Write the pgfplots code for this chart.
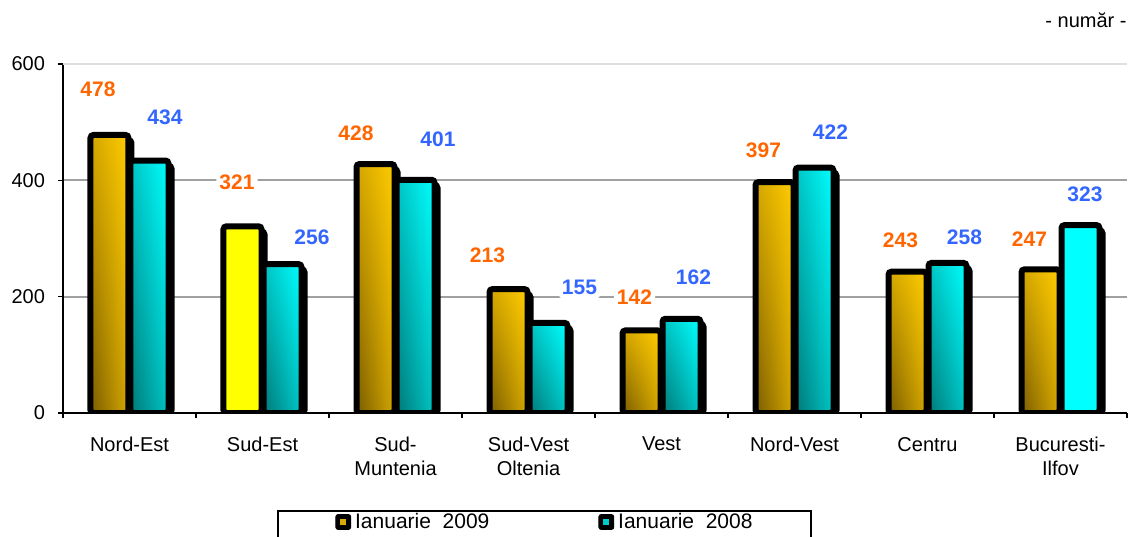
\documentclass[border=0pt]{standalone}
\usepackage{fontspec}
\setmainfont{Liberation Sans}
\usepackage{pgfplots}
\pgfplotsset{compat=1.18}
\usepackage{pgfplotstable}
\usetikzlibrary{shadings}

\definecolor{golddark}{HTML}{7A5C00}
\definecolor{goldmid}{HTML}{D4A600}
\definecolor{goldlight}{HTML}{FFCC00}
\definecolor{cyandark}{HTML}{007878}
\definecolor{cyanmid}{HTML}{00C4C4}
\definecolor{cyanlight}{HTML}{00FFFF}
\definecolor{lblorange}{HTML}{FF6600}
\definecolor{lblblue}{HTML}{3366FF}
\definecolor{plainyellow}{HTML}{FFFF00}
\definecolor{gridgray}{HTML}{A0A0A0}

% shadow tops (value minus a small offset)
\pgfplotstableread{
x y
0 469
1 312
2 419
3 204
4 133
5 388
6 234
7 238
}\goldshadow
\pgfplotstableread{
x y
0 425
1 247
2 392
3 146
4 153
5 413
6 249
7 314
}\cyanshadow

\pgfplotsset{
  barbase/.style={forget plot, ybar, bar width=19pt, draw=black, line width=3pt, rounded corners=1.5pt},
  lbl/.style n args={3}{nodes near coords,
    every node near coord/.append style={anchor=center, xshift=#2pt, yshift=#3pt,
      font=\fontsize{10.5}{12}\selectfont\bfseries, text=#1, fill=white, inner sep=1.5pt}},
  goldg/.style n args={2}{barbase, bar shift=-10pt,
    lower left=golddark, upper left=goldmid, lower right=goldmid, upper right=goldlight,
    lbl={lblorange}{#1}{#2}},
  goldp/.style n args={2}{barbase, bar shift=-10pt, fill=plainyellow, lbl={lblorange}{#1}{#2}},
  cyang/.style n args={2}{barbase, bar shift=10pt,
    lower left=cyandark, upper left=cyanmid, lower right=cyanmid, upper right=cyanlight,
    lbl={lblblue}{#1}{#2}},
  cyanp/.style n args={2}{barbase, bar shift=10pt, fill=cyanlight, lbl={lblblue}{#1}{#2}},
}

\begin{document}
\begin{tikzpicture}
\begin{axis}[
  at={(31.5pt,61.5pt)}, anchor=south west,
  scale only axis, width=532pt, height=174.5pt,
  xmin=-0.5, xmax=7.5, ymin=0, ymax=600,
  axis x line*=bottom, axis y line*=left,
  axis line style={black, line width=0.6pt},
  tick align=outside, major tick length=2.5pt,
  tick style={black, line width=0.6pt},
  xtick={-0.5,0.5,...,7.5},
  x tick label as interval,
  xticklabels={Nord-Est,Sud-Est,Sud-\\Muntenia,Sud-Vest\\Oltenia,Vest,Nord-Vest,Centru,Bucuresti-\\Ilfov},
  xticklabel style={align=center, font=\fontsize{10}{12}\selectfont, yshift=-6pt},
  ytick={0,200,400},
  extra y ticks={600},
  extra y tick style={grid style={draw=gray!25, line width=0.8pt}},
  ymajorgrids, grid style={draw=gridgray, line width=1pt},
  yticklabel style={font=\fontsize{10}{12}\selectfont, xshift=-3pt},
  /pgf/number format/assume math mode=true,
  legend style={at={(axis description cs:0.2556,-0.3123)}, anchor=west,
    draw=none, fill=none, inner sep=0pt, legend columns=2,
    font=\fontsize{10.5}{12}\selectfont,
    /tikz/every even column/.append style={column sep=52.5pt}},
  legend cell align=left,
]
\addlegendimage{legend image code/.code={
  \fill[black, rounded corners=1.2pt] (0pt,-3.75pt) rectangle (7.5pt,3.75pt);
  \fill[goldlight!85!black] (2.5pt,-1.25pt) rectangle (5pt,1.25pt);}}
\addlegendentry{Ianuarie\ \ 2009}
\addlegendimage{legend image code/.code={
  \fill[black, rounded corners=1.2pt] (0pt,-3.75pt) rectangle (7.5pt,3.75pt);
  \fill[cyanlight!80!black] (2.5pt,-1.25pt) rectangle (5pt,1.25pt);}}
\addlegendentry{Ianuarie\ \ 2008}

% gold shadow
\addplot[barbase, bar shift=-8.5pt, fill=black] table[x=x, y=y] {\goldshadow};
% Ianuarie 2009
\addplot[goldg={-15.75}{23}]   coordinates {(0,478)};
\addplot[goldp={-12.75}{22}]   coordinates {(1,321)};
\addplot[goldg={-19.75}{15.5}] coordinates {(2,428)};
\addplot[goldg={-20.5}{17}]    coordinates {(3,213)};
\addplot[goldg={-13.5}{16.5}]  coordinates {(4,142)};
\addplot[goldg={-15.5}{16}]    coordinates {(5,397)};
\addplot[goldg={-13.5}{15.5}]  coordinates {(6,243)};
\addplot[goldg={-15.5}{15}]    coordinates {(7,247)};
% cyan shadow
\addplot[barbase, bar shift=11.5pt, fill=black] table[x=x, y=y] {\cyanshadow};
% Ianuarie 2008
\addplot[cyang={17.75}{21.75}] coordinates {(0,434)};
\addplot[cyang={24.75}{13.5}]  coordinates {(1,256)};
\addplot[cyang={21.25}{20.25}] coordinates {(2,401)};
\addplot[cyang={25.5}{17.5}]   coordinates {(3,155)};
\addplot[cyang={16}{20.5}]     coordinates {(4,162)};
\addplot[cyang={18}{17.5}]     coordinates {(5,422)};
\addplot[cyang={18.5}{12.75}]  coordinates {(6,258)};
\addplot[cyanp={12.25}{15.3}]  coordinates {(7,323)};
\end{axis}
\draw[line width=1pt] (139pt,12.5pt) rectangle (405.5pt,-10pt);
\node[anchor=east, font=\fontsize{10}{12}\selectfont, inner sep=0pt] at (563.5pt,258pt) {- număr -};
\pgfresetboundingbox
\path[use as bounding box] (0pt,0pt) rectangle (564.5pt,268pt);
\end{tikzpicture}
\end{document}
